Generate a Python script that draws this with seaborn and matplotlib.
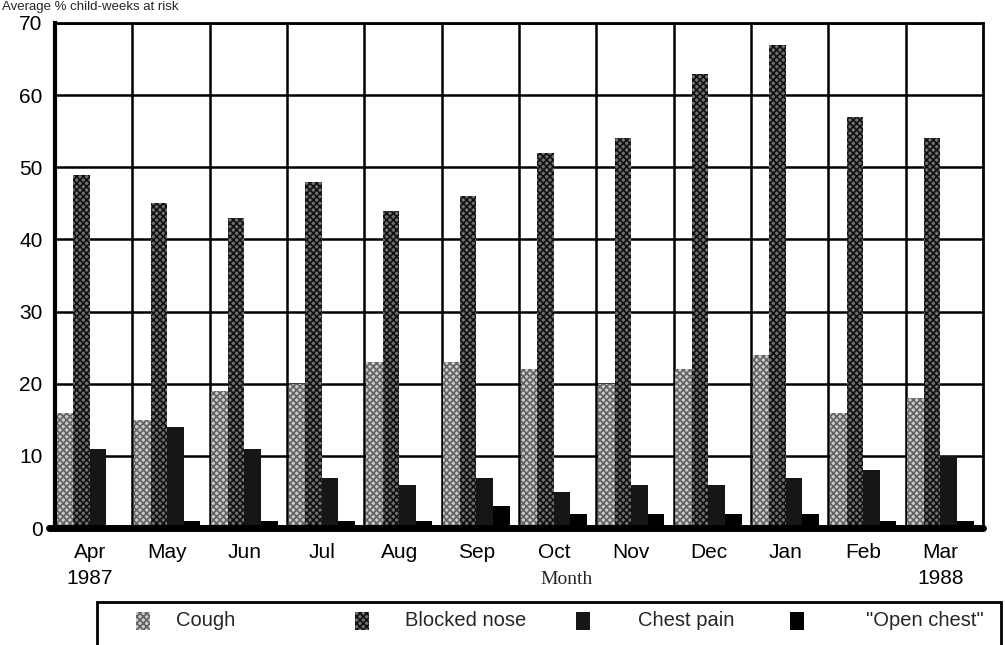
import matplotlib
matplotlib.use("Agg")
import matplotlib.pyplot as plt
from matplotlib.patches import Rectangle
import seaborn as sns
import pandas as pd

# Monthly symptom percentages, April 1987 - March 1988
months = ["Apr", "May", "Jun", "Jul", "Aug", "Sep", "Oct", "Nov", "Dec", "Jan", "Feb", "Mar"]
month_labels = ["Apr\n1987", "May", "Jun", "Jul", "Aug", "Sep", "Oct", "Nov", "Dec", "Jan", "Feb", "Mar\n1988"]
series_names = ["Cough", "Blocked nose", "Chest pain", "\"Open chest\""]
cough = [16, 15, 19, 20, 23, 23, 22, 20, 22, 24, 16, 18]
blocked_nose = [49, 45, 43, 48, 44, 46, 52, 54, 63, 67, 57, 54]
chest_pain = [11, 14, 11, 7, 6, 7, 5, 6, 6, 7, 8, 10]
open_chest = [0.3, 1, 1, 1, 1, 3, 2, 2, 2, 2, 1, 1]
y_ticks = [0, 10, 20, 30, 40, 50, 60, 70]

sns.set_theme(style="white")
plt.rcParams["font.family"] = ["Liberation Sans", "DejaVu Sans"]
plt.rcParams["hatch.linewidth"] = 1.2

rows = []
for name, vals in zip(series_names, [cough, blocked_nose, chest_pain, open_chest]):
    for m, v in zip(months, vals):
        rows.append({"month": m, "symptom": name, "value": v})
df = pd.DataFrame(rows)

# halftone-like fills: (face colour, hatch, hatch colour)
styles = {
    series_names[0]: ("#cacaca", "xxxxx", "#626262"),
    series_names[1]: ("#707070", "xxxxx", "#101010"),
    series_names[2]: ("#161616", None, "#161616"),
    series_names[3]: ("#000000", None, "#000000"),
}
palette = {k: v[0] for k, v in styles.items()}

fig = plt.figure(figsize=(10.05, 6.45), dpi=100)
ax = fig.add_axes([55 / 1005, 1 - 528 / 645, (983 - 55) / 1005, (528 - 23) / 645])

sns.barplot(data=df, x="month", y="value", hue="symptom", order=months,
            hue_order=series_names, palette=palette, saturation=1,
            width=0.86, gap=0, linewidth=0, legend=False, ax=ax, zorder=2)

for cont, name in zip(ax.containers, series_names):
    face, hatch, hcol = styles[name]
    for bar in cont:
        bar.set_facecolor(face)
        bar.set_edgecolor(hcol)
        bar.set_linewidth(0)
        if hatch:
            bar.set_hatch(hatch)

ax.set_xlim(-0.45, 11.55)
ax.set_ylim(0, 70)
ax.set_yticks(y_ticks)
ax.set_xticks(range(len(months)))
ax.set_xticklabels(month_labels, linespacing=1.45)
ax.set_xticks([i + 0.55 for i in range(len(months) - 1)], minor=True)
ax.tick_params(axis="both", which="both", length=0, labelsize=15, colors="black")
ax.tick_params(axis="x", pad=11)
ax.tick_params(axis="y", pad=9)
ax.set_axisbelow(True)
ax.grid(axis="y", which="major", color="black", linewidth=1.8)
ax.grid(axis="x", which="minor", color="black", linewidth=1.8)
ax.grid(axis="x", which="major", visible=False)
ax.set_xlabel("")
ax.set_ylabel("")
for side, spine in ax.spines.items():
    spine.set_visible(True)
    spine.set_color("black")
    spine.set_linewidth(2)
ax.spines["left"].set_linewidth(3)
ax.axhline(0, xmin=-0.006, xmax=1.0, color="black", linewidth=5, zorder=4, clip_on=False)

fig.text(567 / 1005, 1 - 579 / 645, "Month", family=["Liberation Serif", "DejaVu Serif"],
         fontsize=14, ha="center", va="center")

# axis caption in the top margin
fig.text(2 / 1005, 1 - 1 / 645, "Average % child-weeks at risk", fontsize=9.5,
         ha="left", va="top")

# legend box along the bottom
fig.patches.append(Rectangle((97 / 1005, -0.05), (1001 - 97) / 1005, 0.05 + 1 - 602 / 645,
                             transform=fig.transFigure, facecolor="white",
                             edgecolor="black", linewidth=2))
marker_x = [143, 362, 583, 797]
text_x = [176, 405, 638, 866]
ly = 1 - 621 / 645
for name, mx, tx in zip(series_names, marker_x, text_x):
    face, hatch, hcol = styles[name]
    fig.patches.append(Rectangle(((mx - 7) / 1005, ly - 9 / 645), 14 / 1005, 18 / 645,
                                 transform=fig.transFigure, facecolor=face,
                                 edgecolor=hcol, linewidth=0, hatch=hatch))
    fig.text(tx / 1005, ly, name, fontsize=14.5, ha="left", va="center")

fig.savefig("out.png", dpi=100)
